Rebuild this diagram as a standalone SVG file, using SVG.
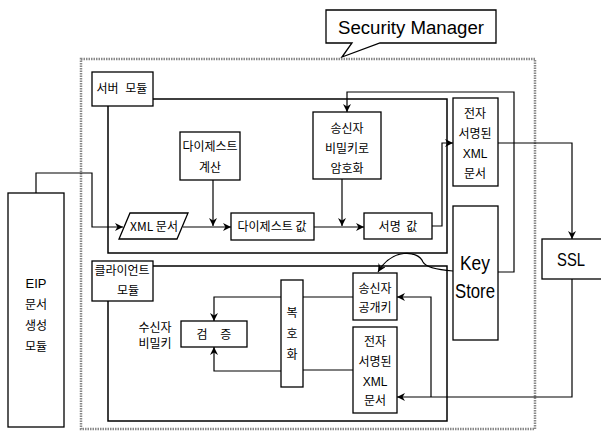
<svg xmlns="http://www.w3.org/2000/svg" width="601" height="432" viewBox="0 0 601 432">
<defs>
<marker id="ah" viewBox="0 0 10 10" refX="10" refY="5" markerWidth="8" markerHeight="8" markerUnits="userSpaceOnUse" orient="auto">
<path d="M0,0 L10,5 L0,10 L3,5 Z" fill="#000"/>
</marker>
<style>
.b{fill:#fff;stroke:#000;stroke-width:1.3}
.r{fill:none;stroke:#000;stroke-width:1.5}
.c{fill:none;stroke:#000;stroke-width:1.2}
.t{font-family:"Noto Sans CJK KR","Noto Sans",sans-serif;font-size:12px;fill:#000;text-anchor:middle}
.e{font-family:"Liberation Sans",Arial,sans-serif;fill:#000;text-anchor:middle}
</style>
</defs>
<rect width="601" height="432" fill="#fff"/>

<g id="security-manager">
<rect x="81" y="59" width="454" height="370" fill="none" stroke="#888" stroke-width="2.5" stroke-dasharray="1.5,1"/>
<path d="M326,10 H496 V43 H380 L342,57 L352,43 H326 Z" fill="#fff" stroke="#000" stroke-width="1.3"/>
<text class="e" x="411" y="34" font-size="18" textLength="146" lengthAdjust="spacingAndGlyphs">Security Manager</text>
</g>

<g id="server-module">
<rect class="r" x="108" y="99" width="339" height="154"/>
<rect class="b" x="92" y="72" width="61" height="34"/>
<text class="t" x="122" y="93" word-spacing="4">서버 모듈</text>
</g>

<g id="client-module">
<rect class="r" x="108" y="266" width="339" height="155"/>
<rect class="b" x="92" y="261" width="61" height="40"/>
<text class="t" x="122" y="275">클라이언트</text>
<text class="t" x="128" y="295">모듈</text>
</g>

<g id="eip">
<rect class="b" x="8" y="193" width="56" height="234"/>
<text class="e" x="36" y="288" font-size="13">EIP</text>
<text class="t" x="36" y="309">문서</text>
<text class="t" x="36" y="330">생성</text>
<text class="t" x="36" y="351">모듈</text>
</g>

<g id="digest-calc">
<rect class="b" x="180" y="132" width="60" height="48"/>
<text class="t" x="210" y="151">다이제스트</text>
<text class="t" x="210" y="172">계산</text>
</g>

<g id="xml-doc">
<path d="M130,213 H188 L177,239 H119 Z" class="b"/>
<text class="t" x="154" y="231">XML 문서</text>
</g>

<g id="digest-value">
<rect class="b" x="231" y="213" width="83" height="27"/>
<text class="t" x="272" y="231">다이제스트 값</text>
</g>

<g id="encrypt">
<rect class="b" x="313" y="112" width="68" height="67"/>
<text class="t" x="347" y="133">송신자</text>
<text class="t" x="347" y="153">비밀키로</text>
<text class="t" x="347" y="173">암호화</text>
</g>

<g id="signature-value">
<rect class="b" x="364" y="213" width="68" height="26"/>
<text class="t" x="398" y="231" word-spacing="3">서명 값</text>
</g>

<g id="signed-xml-server">
<rect class="b" x="453" y="98" width="45" height="88"/>
<text class="t" x="475" y="118">전자</text>
<text class="t" x="475" y="138">서명된</text>
<text class="e" x="475" y="158" font-size="12">XML</text>
<text class="t" x="475" y="178">문서</text>
</g>

<g id="key-store">
<rect class="b" x="453" y="206" width="45" height="134"/>
<text class="e" x="475" y="270" font-size="21" textLength="30" lengthAdjust="spacingAndGlyphs">Key</text>
<text class="e" x="475" y="298" font-size="21" textLength="40" lengthAdjust="spacingAndGlyphs">Store</text>
</g>

<g id="ssl">
<rect class="b" x="542" y="239" width="60" height="40"/>
<text class="e" x="571" y="266" font-size="18" textLength="28" lengthAdjust="spacingAndGlyphs">SSL</text>
</g>

<g id="public-key">
<rect class="b" x="353" y="273" width="44" height="47"/>
<text class="t" x="375" y="293">송신자</text>
<text class="t" x="375" y="312">공개키</text>
</g>

<g id="signed-xml-client">
<rect class="b" x="353" y="327" width="44" height="86"/>
<text class="t" x="375" y="346">전자</text>
<text class="t" x="375" y="366">서명된</text>
<text class="e" x="375" y="386" font-size="12">XML</text>
<text class="t" x="375" y="405">문서</text>
</g>

<g id="decrypt">
<rect class="b" x="281" y="280" width="22" height="107"/>
<text class="t" x="292" y="317">복</text>
<text class="t" x="292" y="338">호</text>
<text class="t" x="292" y="359">화</text>
</g>

<g id="verify">
<rect class="b" x="181" y="321" width="66" height="26"/>
<text class="t" x="214" y="339" word-spacing="10">검 증</text>
</g>

<g id="receiver-key">
<text class="t" x="155" y="332">수신자</text>
<text class="t" x="155" y="348">비밀키</text>
</g>

<g id="connectors">
<path class="c" d="M36,193 V173 H92 V227 H123" marker-end="url(#ah)"/>
<path class="c" d="M183,227 H231" marker-end="url(#ah)"/>
<path class="c" d="M213,180 V226" marker-end="url(#ah)"/>
<path class="c" d="M498,272 H514 V92 H347 V112" marker-end="url(#ah)"/>
<path class="c" d="M342,179 V226" marker-end="url(#ah)"/>
<path class="c" d="M314,227 H364" marker-end="url(#ah)"/>
<path class="c" d="M432,226 H442 V143 H453" marker-end="url(#ah)"/>
<path class="c" d="M498,143 H572 V239" marker-end="url(#ah)"/>
<path class="c" d="M572,279 V397 H397" marker-end="url(#ah)"/>
<path class="c" d="M431,397 V297 H397" marker-end="url(#ah)"/>
<path class="c" d="M453,271 C440,270 426,268 423,262 C418,250 392,248 378,272" marker-end="url(#ah)"/>
<path class="c" d="M353,297 H303"/>
<path class="c" d="M353,370 H303"/>
<path class="c" d="M281,297 H214 V321" marker-end="url(#ah)"/>
<path class="c" d="M281,371 H214 V347" marker-end="url(#ah)"/>
</g>
</svg>
